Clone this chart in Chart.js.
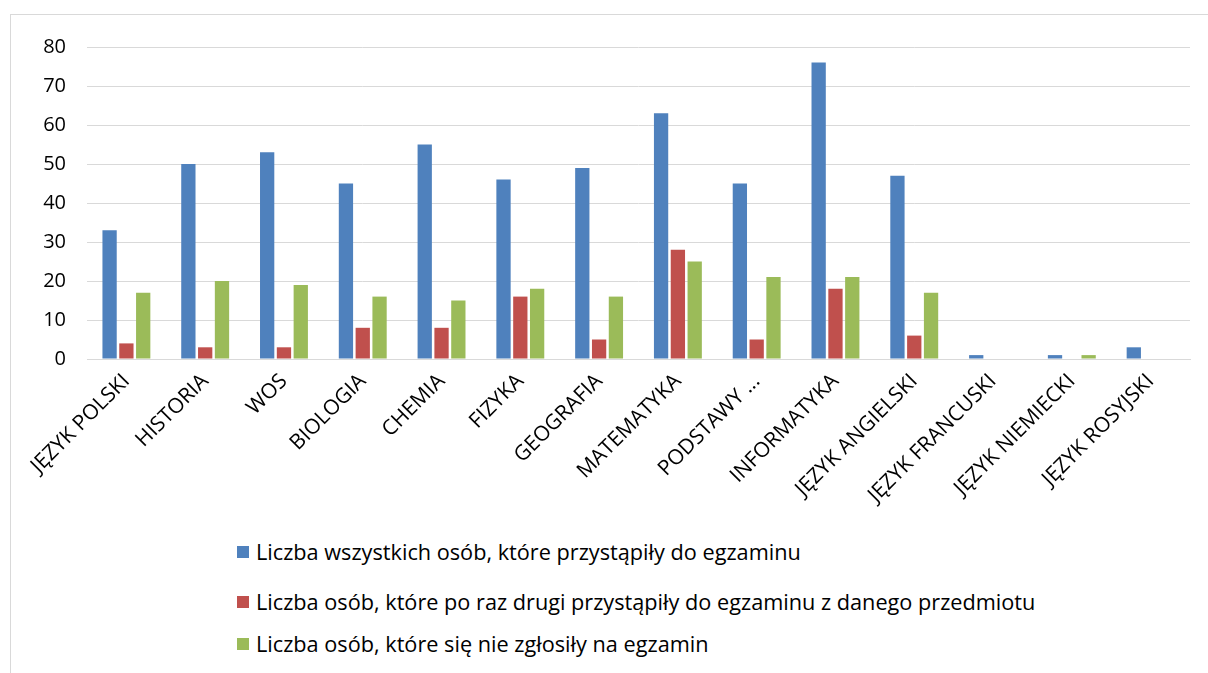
<!DOCTYPE html>
<html>
<head>
<meta charset="utf-8">
<script src="https://cdn.jsdelivr.net/npm/chart.js@4"></script>
<style>
    body { margin: 0; background: #fff; font-family: "Open Sans", sans-serif; }
    .frame { position: absolute; left: 10px; top: 14px; width: 1210px; height: 680px; border: 1px solid #d9d9d9; }
    .wrap { position: absolute; left: 10px; top: 14px; width: 1198px; height: 520px; }
    .legend { position: absolute; left: 237px; top: 0; }
    .legend div { position: absolute; white-space: nowrap; font-size: 21.7px; color: #000; line-height: 24px; }
    .legend span { display: inline-block; width: 12px; height: 12px; margin-right: 7px; vertical-align: 2px; }
</style>
</head>
<body>
<div class="frame"></div>
<div class="wrap"><canvas id="chart"></canvas></div>
<div class="legend" id="legend"></div>

<script>
// Subjects on the x axis
const categories = ['JĘZYK POLSKI', 'HISTORIA', 'WOS', 'BIOLOGIA', 'CHEMIA', 'FIZYKA', 'GEOGRAFIA',
    'MATEMATYKA', 'PODSTAWY ...', 'INFORMATYKA', 'JĘZYK ANGIELSKI', 'JĘZYK FRANCUSKI',
    'JĘZYK NIEMIECKI', 'JĘZYK ROSYJSKI'];

// Series values
const allTakers = [33, 50, 53, 45, 55, 46, 49, 63, 45, 76, 47, 1, 1, 3];
const secondAttempt = [4, 3, 3, 8, 8, 16, 5, 28, 5, 18, 6, 0, 0, 0];
const noShows = [17, 20, 19, 16, 15, 18, 16, 25, 21, 21, 17, 0, 1, 0];

const seriesNames = [
    'Liczba wszystkich osób, które przystąpiły do egzaminu',
    'Liczba osób, które po raz drugi przystąpiły do egzaminu z danego przedmiotu',
    'Liczba osób, które się nie zgłosiły na egzamin'
];
const seriesColors = ['#4F81BD', '#C0504D', '#9BBB59'];

// Y axis range
const yMax = 80;
const yStep = 10;

document.addEventListener('DOMContentLoaded', function() {
    const ctx = document.getElementById('chart').getContext('2d');
    const values = [allTakers, secondAttempt, noShows];

    new Chart(ctx, {
        type: 'bar',
        data: {
            labels: categories,
            datasets: values.map((data, i) => ({
                label: seriesNames[i],
                data: data,
                backgroundColor: seriesColors[i],
                borderWidth: 0,
                categoryPercentage: 0.64,
                barPercentage: 0.85
            }))
        },
        options: {
            responsive: true,
            maintainAspectRatio: false,
            animation: false,
            layout: { padding: { top: 27, right: 18, left: 0, bottom: 0 } },
            plugins: {
                legend: { display: false },
                tooltip: { enabled: false }
            },
            scales: {
                x: {
                    grid: { display: false, drawTicks: false },
                    border: { color: '#d9d9d9', width: 1 },
                    ticks: {
                        color: '#000',
                        font: { family: 'Open Sans', size: 21 },
                        minRotation: 45,
                        maxRotation: 45,
                        autoSkip: false,
                        padding: 10
                    },
                    afterFit: s => { s.height = 175; }
                },
                y: {
                    min: 0,
                    max: yMax,
                    grid: { color: '#d9d9d9', drawTicks: false },
                    border: { display: false },
                    ticks: {
                        stepSize: yStep,
                        color: '#000',
                        font: { family: 'Open Sans', size: 20 },
                        padding: 21
                    },
                    afterFit: s => { s.width = 77; }
                }
            }
        }
    });

    // Legend stacked vertically, left aligned like the original
    const legend = document.getElementById('legend');
    const rowTops = [540, 590, 632];
    seriesNames.forEach((name, i) => {
        const row = document.createElement('div');
        row.style.top = rowTops[i] + 'px';
        row.innerHTML = '<span style="background:' + seriesColors[i] + '"></span>' + name;
        legend.appendChild(row);
    });
});
</script>
</body>
</html>
